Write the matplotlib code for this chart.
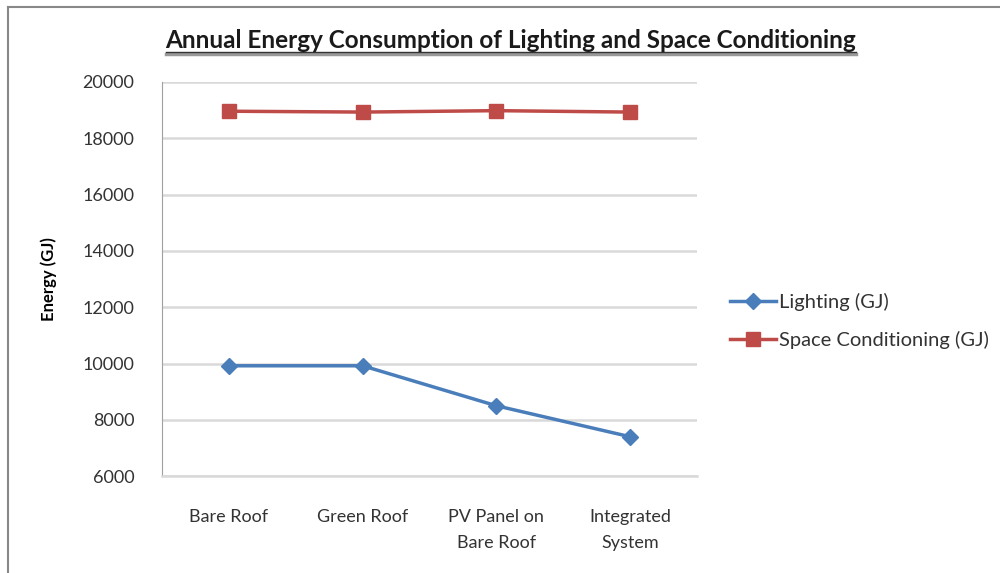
import matplotlib.pyplot as plt
from matplotlib.lines import Line2D

# data
categories = ["Bare Roof", "Green Roof", "PV Panel on\nBare Roof", "Integrated\nSystem"]
lighting = [9920, 9920, 8500, 7400]
space_conditioning = [18960, 18930, 18980, 18930]
yticks = [6000, 8000, 10000, 12000, 14000, 16000, 18000, 20000]

plt.rcParams['font.family'] = ['Lato', 'DejaVu Sans']

fig = plt.figure(figsize=(10, 5.73), dpi=100)
ax = fig.add_axes([0.162, 0.169, 0.535, 0.688])

x = range(len(categories))
ax.plot(x, lighting, color="#4A7EBB", lw=2.5, marker="D", markersize=8,
        label="Lighting (GJ)")
ax.plot(x, space_conditioning, color="#BE4B48", lw=2.5, marker="s", markersize=10,
        label="Space Conditioning (GJ)")

ax.set_xlim(-0.5, len(categories) - 0.5)
ax.set_ylim(6000, 20000)
ax.set_yticks(yticks)
ax.set_xticks(list(x))
ax.set_xticklabels(categories, fontsize=13, color="#333333", linespacing=1.75)
ax.tick_params(axis="y", labelsize=13, labelcolor="#333333", length=0, pad=20)
ax.tick_params(axis="x", length=0, pad=24)

# gridlines
ax.grid(axis="y", color="#d9d9d9", lw=1.8)
ax.set_axisbelow(True)
for s in ["top", "right"]:
    ax.spines[s].set_visible(False)
ax.spines["left"].set_color("#a0a0a0")
ax.spines["bottom"].set_color("#d9d9d9")
ax.spines["bottom"].set_linewidth(1.8)

ax.set_ylabel("Energy (GJ)", fontsize=12, fontweight="bold", labelpad=18)

# title with underline
title = fig.text(0.511, 0.93, "Annual Energy Consumption of Lighting and Space Conditioning",
                 ha="center", va="center", fontsize=17.5, fontweight="bold", color="#1a1a1a")
fig.canvas.draw()
bb = title.get_window_extent().transformed(fig.transFigure.inverted())
fig.add_artist(Line2D([bb.x0, bb.x1], [bb.y0 - 0.004, bb.y0 - 0.004],
                      transform=fig.transFigure, color="#999999", lw=2.5))
fig.add_artist(Line2D([bb.x0, bb.x1], [bb.y0 - 0.001, bb.y0 - 0.001],
                      transform=fig.transFigure, color="#333333", lw=1))

leg = fig.legend(loc="upper left", bbox_to_anchor=(0.712, 0.52), frameon=False,
                 fontsize=14.5, handlelength=2.3, handletextpad=0.15, labelspacing=1.0)
for t in leg.get_texts():
    t.set_color("#333333")

# chart border
fig.add_artist(Line2D([0.008, 0.008], [0.0, 0.988], transform=fig.transFigure,
                      color="#888888", lw=1.5))
fig.add_artist(Line2D([0.008, 1.0], [0.988, 0.988], transform=fig.transFigure,
                      color="#888888", lw=1.5))

fig.savefig("out.png", dpi=100)
